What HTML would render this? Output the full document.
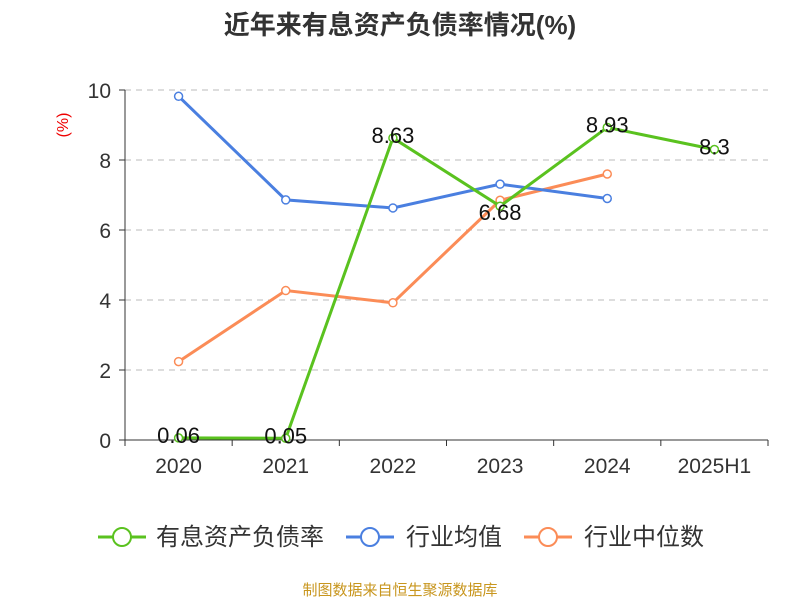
<!DOCTYPE html>
<html><head><meta charset="utf-8"><style>
body{margin:0;background:#fff;}
svg text{font-family:"Liberation Sans","Noto Sans CJK SC",sans-serif;}
</style></head><body>
<svg id="c" width="800" height="600" xmlns="http://www.w3.org/2000/svg">
<text x="400" y="34" text-anchor="middle" font-size="26" font-weight="bold" fill="#333">近年来有息资产负债率情况(%)</text>
<text x="68" y="125" font-size="16" fill="#e00" transform="rotate(-90 68 125)" text-anchor="middle">(%)</text>
<g id="grid"></g><g id="axes"></g><g id="series"></g>
<g>
<g><line x1="98" y1="537" x2="146" y2="537" stroke="#5ac21f" stroke-width="3"/><circle cx="122" cy="537" r="9" fill="#fff" stroke="#5ac21f" stroke-width="2"/><text x="156" y="545" font-size="24" fill="#333">有息资产负债率</text></g>
<g><line x1="346" y1="537" x2="394" y2="537" stroke="#4a7fe0" stroke-width="3"/><circle cx="370" cy="537" r="9" fill="#fff" stroke="#4a7fe0" stroke-width="2"/><text x="406" y="545" font-size="24" fill="#333">行业均值</text></g>
<g><line x1="524" y1="537" x2="572" y2="537" stroke="#fb8c57" stroke-width="3"/><circle cx="548" cy="537" r="9" fill="#fff" stroke="#fb8c57" stroke-width="2"/><text x="584" y="545" font-size="24" fill="#333">行业中位数</text></g>
</g>
<text x="400" y="595" text-anchor="middle" font-size="15" fill="#c8961e">制图数据来自恒生聚源数据库</text>
</svg>
<script>
const categories=["2020","2021","2022","2023","2024","2025H1"];
const debtRatio=[0.06,0.05,8.63,6.68,8.93,8.3];
const industryMean=[9.82,6.86,6.63,7.31,6.9];
const industryMedian=[2.24,4.27,3.92,6.85,7.6];
const yTicks=[0,2,4,6,8,10];
const NS="http://www.w3.org/2000/svg";
const x0=125,x1=768,yTop=90,yBot=440,yMax=10;
const bw=(x1-x0)/categories.length;
const xs=i=>x0+bw*(i+0.5);
const ys=v=>yBot-(v/yMax)*(yBot-yTop);
function mk(t,a,p){const e=document.createElementNS(NS,t);for(const k in a)e.setAttribute(k,a[k]);p.appendChild(e);return e;}
const grid=document.getElementById('grid'),axes=document.getElementById('axes'),ser=document.getElementById('series');
yTicks.forEach(v=>{
 if(v>0){const l=mk('line',{x1:x0,x2:x1,y1:ys(v),y2:ys(v),stroke:'#bbb','stroke-dasharray':'6,5'},grid);
 }
 mk('line',{x1:x0-6,x2:x0,y1:ys(v),y2:ys(v),stroke:'#333'},axes);
 const t=mk('text',{x:x0-14,y:ys(v)+8,'text-anchor':'end','font-size':21,fill:'#333'},axes);t.textContent=v;
 
});
const ya=mk('line',{x1:x0,x2:x0,y1:yTop,y2:yBot,stroke:'#333'},axes);

const xa=mk('line',{x1:x0,x2:x1,y1:yBot,y2:yBot,stroke:'#333'},axes);

for(let i=0;i<=categories.length;i++)mk('line',{x1:x0+bw*i,x2:x0+bw*i,y1:yBot,y2:yBot+6,stroke:'#333'},axes);
categories.forEach((c,i)=>{const t=mk('text',{x:xs(i),y:yBot+33,'text-anchor':'middle','font-size':21,fill:'#333'},axes);t.textContent=c;
 });
function draw(vals,color,name,labels){
 const g=mk('g',{},ser);
 const p=mk('polyline',{points:vals.map((v,i)=>xs(i)+','+ys(v)).join(' '),fill:'none',stroke:color,'stroke-width':3},g);
 
 vals.forEach((v,i)=>{const c=mk('circle',{cx:xs(i),cy:ys(v),r:4,fill:'#fff',stroke:color,'stroke-width':1.5},g);
  
  if(labels){const t=mk('text',{x:xs(i),y:ys(v)+(i==3?14:5),'text-anchor':'middle','font-size':22,fill:'#111'},g);t.textContent=v;
   }});
}
draw(industryMedian,'#fb8c57','industry-median-series',false);
draw(industryMean,'#4a7fe0','industry-mean-series',false);
draw(debtRatio,'#5ac21f','debt-ratio-series',true);
</script>
</body></html>
